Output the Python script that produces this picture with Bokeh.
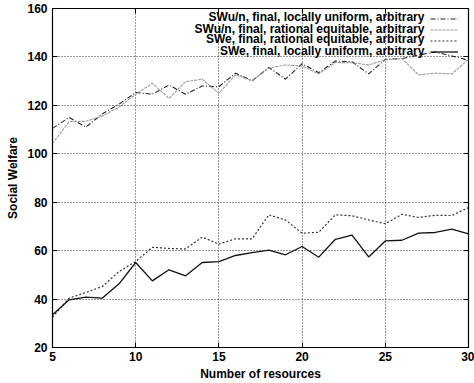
from bokeh.plotting import figure
from bokeh.models import (Range1d, FixedTicker, LinearAxis, Legend, LegendItem, Label)
from bokeh.embed import file_html
from bokeh.resources import INLINE

resources = list(range(5, 31))

swun_local = [110.5, 115.0, 111.0, 116.5, 120.5, 125.3, 124.6, 128.4, 124.6, 128.0,
              127.7, 133.3, 130.1, 135.7, 130.8, 137.2, 133.5, 138.3, 138.0, 133.0,
              139.0, 139.3, 140.8, 142.0, 140.4, 138.6]
swun_rational = [104.3, 113.3, 113.4, 115.6, 119.3, 124.6, 129.1, 122.9, 129.8, 130.8,
                 125.0, 132.6, 130.2, 135.4, 136.7, 136.2, 133.0, 137.7, 137.6, 136.7,
                 138.8, 139.3, 132.6, 133.3, 133.0, 139.0]
swe_rational = [32.5, 40.4, 42.7, 45.2, 51.4, 55.5, 61.4, 60.9, 60.7, 65.6,
                62.7, 64.9, 64.9, 74.8, 72.7, 67.2, 67.6, 74.8, 74.4, 72.7,
                71.1, 75.0, 73.7, 74.6, 74.5, 77.8]
swe_local = [33.5, 39.7, 40.8, 40.4, 46.3, 55.1, 47.5, 52.1, 49.6, 55.1,
             55.5, 58.0, 59.2, 60.2, 58.3, 61.7, 57.3, 64.7, 66.4, 57.4,
             64.0, 64.3, 67.2, 67.5, 68.9, 66.9]

legend_labels = ["SWu/n, final, locally uniform, arbitrary",
                 "SWu/n, final, rational equitable, arbitrary",
                 "SWe, final, rational equitable, arbitrary",
                 "SWe, final, locally uniform, arbitrary"]

x_ticks = [5, 10, 15, 20, 25, 30]
y_ticks = [20, 40, 60, 80, 100, 120, 140, 160]

FONT = "Liberation Sans"

p = figure(width=474, height=383, output_backend="svg", toolbar_location=None,
           x_range=Range1d(5, 30), y_range=Range1d(20, 160),
           min_border_left=52, min_border_right=6, min_border_top=8, min_border_bottom=36)
p.background_fill_color = "white"
p.border_fill_color = "white"
p.outline_line_color = "black"
p.outline_line_width = 1.2

for ax in (p.xaxis[0], p.yaxis[0]):
    ax.major_label_text_font = FONT
    ax.major_label_text_font_style = "bold"
    ax.major_label_text_font_size = "12px"
    ax.major_label_text_color = "black"
    ax.axis_label_text_font = FONT
    ax.axis_label_text_font_style = "bold"
    ax.axis_label_text_font_size = "12px"
    ax.axis_label_text_color = "black"
    ax.major_tick_in = 5
    ax.major_tick_out = 0
    ax.minor_tick_line_color = None
    ax.axis_line_color = "black"
    ax.major_tick_line_color = "black"

p.xaxis[0].ticker = FixedTicker(ticks=x_ticks)
p.yaxis[0].ticker = FixedTicker(ticks=y_ticks)
p.xaxis[0].axis_label = "Number of resources"
p.yaxis[0].axis_label = "Social Welfare"
p.xaxis[0].major_label_standoff = 4
p.xaxis[0].axis_label_standoff = 3
p.yaxis[0].major_label_standoff = 5
p.yaxis[0].axis_label_standoff = 4

for loc, tick in (("right", y_ticks), ("above", x_ticks)):
    ax = LinearAxis(ticker=FixedTicker(ticks=tick), major_label_text_font_size="1px",
                    major_label_text_color=None, major_label_text_alpha=0,
                    major_label_standoff=0, major_tick_in=5, major_tick_out=0,
                    minor_tick_line_color=None, axis_line_color="black",
                    major_tick_line_color="black")
    p.add_layout(ax, loc)

p.xgrid.ticker = FixedTicker(ticks=x_ticks)
p.ygrid.ticker = FixedTicker(ticks=y_ticks)
for g in (p.xgrid[0], p.ygrid[0]):
    g.grid_line_color = "#333333"
    g.grid_line_dash = "1 2"
    g.grid_line_width = 1

r1 = p.line(resources, swun_local, line_color="#222222", line_width=1.1, line_dash="5 2 1 2")
r2 = p.line(resources, swun_rational, line_color="#9a9a9a", line_width=1.1, line_dash="3 1")
r3 = p.line(resources, swe_rational, line_color="#333333", line_width=1.2, line_dash="2 2")
r4 = p.line(resources, swe_local, line_color="#111111", line_width=1.3)

legend = Legend(items=[LegendItem(label=" ", renderers=[r]) for r in (r1, r2, r3, r4)],
                location=(378, 290), orientation="vertical",
                glyph_width=28, glyph_height=11, label_width=0, label_height=11,
                label_standoff=0, spacing=0, padding=0, margin=0,
                label_text_font_size="1px", label_text_color=None, label_text_alpha=0,
                border_line_color=None, background_fill_alpha=0)
p.add_layout(legend, "center")

label_y = [156.3, 151.7, 147.2, 142.6]
for txt, yy in zip(legend_labels, label_y):
    p.add_layout(Label(x=27.35, y=yy, text=txt, text_align="right", text_baseline="middle",
                       text_font=FONT, text_font_style="bold", text_font_size="12px",
                       text_color="black"))

open("out.html", "w").write(file_html(p, INLINE))
